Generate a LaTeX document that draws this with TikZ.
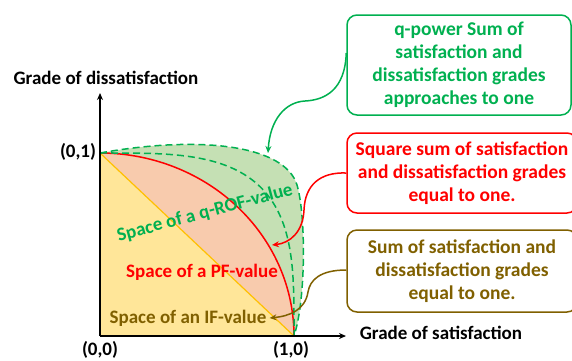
\documentclass[tikz,border=0pt]{standalone}
\usepackage{fontspec}
\setmainfont{Carlito}
\usetikzlibrary{arrows.meta}
\definecolor{cgreen}{HTML}{00B050}
\definecolor{cgreenfill}{HTML}{C5E0B4}
\definecolor{cred}{HTML}{FF0000}
\definecolor{csalmon}{HTML}{F8CBAD}
\definecolor{cyellow}{HTML}{FFE699}
\definecolor{corange}{HTML}{FFC000}
\definecolor{colive}{HTML}{806000}
\begin{document}
\begin{tikzpicture}[x=1pt,y=-1pt,
 lbl/.style={font=\fontsize{19}{22}\selectfont\bfseries, inner sep=0pt},
 boxtxt/.style={draw, rounded corners=10pt, line width=1.5pt, align=center, font=\fontsize{19.5}{23}\selectfont\bfseries, inner sep=0pt},
 conn/.style={line width=1.5pt, -{Stealth[length=7pt,width=6pt]}},
 dsh/.style={cgreen, line width=1.5pt, dash pattern=on 7pt off 4pt},
 axis/.style={line width=1.5pt, -{Stealth[length=7pt,width=6pt]}},
]
\useasboundingbox (0,0) rectangle (572,360);
\clip (0,0) rectangle (572,360);
\coordinate (O) at (100,336);
\coordinate (X1) at (294,336);
\coordinate (Y1) at (100,153);
\coordinate (ytop) at (100,93);
\coordinate (xend) at (346,336);
\coordinate (gtip) at (268,153);
\coordinate (rtip) at (272,245);
% fills
\fill[cgreenfill] (O) -- (Y1) .. controls (200,135) and (285,145) .. (297,185) .. controls (306,215) and (306,300) .. (X1) -- cycle;
\fill[csalmon] (O) -- plot[domain=90:0, samples=60] ({100+194*cos(\x)},{336-183*sin(\x)}) -- cycle;
\fill[cyellow] (O) -- (Y1) -- (X1) -- cycle;
% curves
\draw[corange, line width=1.2pt] (Y1) -- (X1);
\draw[cred, line width=1.5pt] plot[domain=90:0, samples=60] ({100+194*cos(\x)},{336-183*sin(\x)});
\draw[dsh] (Y1) .. controls (200,135) and (285,145) .. (297,185) .. controls (306,215) and (306,300) .. (X1);
\draw[dsh] (Y1) -- plot[domain=89.9:0.1, samples=80] ({100+194*pow(cos(\x),0.5714)},{336-183*pow(sin(\x),0.5714)}) -- (X1);
% axes
\draw[axis] (O) -- (ytop);
\draw[axis] (O) -- (xend);
% labels
\node[lbl] (ylab) at (106,78) {Grade of dissatisfaction};
\node[lbl] (xlab) at (441,333) {Grade of satisfaction};
\node[lbl] (l01) at (78,152) {(0,1)};
\node[lbl] (l00) at (100,350) {(0,0)};
\node[lbl] (l10) at (291,350) {(1,0)};
\node[lbl, text=cgreen, rotate=15] (qlab) at (205,213) {Space of a q-ROF-value};
\node[lbl, text=cred] (pflab) at (202,272) {Space of a PF-value};
\node[lbl, text=colive] (iflab) at (188,318) {Space of an IF-value};
% boxes
\node[boxtxt, cgreen, minimum width=224pt, minimum height=100pt] (gbox) at (459,65) {q-power Sum of\\satisfaction and\\dissatisfaction grades\\approaches to one};
\node[boxtxt, cred, minimum width=230pt, minimum height=80pt] (rbox) at (462,173) {Square sum of satisfaction\\and dissatisfaction grades\\equal to one.};
\node[boxtxt, colive, minimum width=230pt, minimum height=82pt] (obox) at (462,271) {Sum of satisfaction and\\dissatisfaction grades\\equal to one.};
% connectors
\draw[conn, cgreen] ([yshift=12pt]gbox.west) .. controls (345,90) and (325,100) .. (305,101) .. controls (285,102) and (270,120) .. (gtip);
\draw[conn, cred] (rbox.west) .. controls (320,172) and (305,185) .. (304,210) .. controls (303,232) and (290,243) .. (rtip);
\draw[conn, colive] ([yshift=1pt]obox.west) .. controls (320,270) and (310,280) .. (308,292) .. controls (305,310) and (290,316) .. ([xshift=3pt]iflab.east);
\end{tikzpicture}
\end{document}
